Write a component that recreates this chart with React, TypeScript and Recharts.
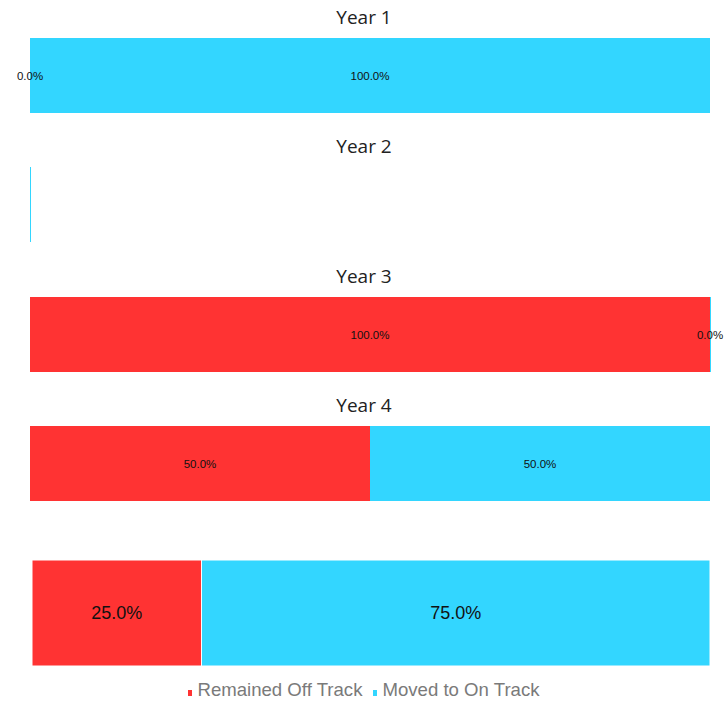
// @ts-nocheck
import React from 'react';
import { BarChart, Bar, XAxis, YAxis, LabelList } from 'recharts';

// Per-year share of students (%)
const years = ['Year 1', 'Year 2', 'Year 3', 'Year 4'];
const offTrack = [0, 0, 100, 50];
const onTrack = [100, 0, 0, 50];

// All years combined (%)
const totalOffTrack = 25;
const totalOnTrack = 75;

const seriesNames = ['Remained Off Track', 'Moved to On Track'];
const RED = '#ff3333';
const BLUE = '#33d6ff';

const W = 728;

// bar that keeps a hairline even when the value is 0
const ThinBar = (props: any) => {
  const { x, y, width, height, fill, stroke } = props;
  return <rect x={x} y={y} width={Math.max(width || 0, 1)} height={height} fill={fill} stroke={stroke} />;
};

const makeLabel = (show: boolean, size: number) => (props: any) => {
  const { x, y, width, height, value } = props;
  if (!show || value == null) return null;
  return (
    <text
      x={x + width / 2}
      y={y + height / 2}
      textAnchor="middle"
      dominantBaseline="central"
      fontSize={size}
      fontFamily="'Liberation Sans', Arial, sans-serif"
      fill="#111"
    >
      {Number(value).toFixed(1)}%
    </text>
  );
};

function YearChart({ i }: { i: number }) {
  const row = { name: years[i], off: offTrack[i], on: onTrack[i] };
  const hasData = row.off + row.on > 0;
  const barTop = 38 + i * 129.3;
  return (
    <>
      <div
        style={{
          position: 'absolute',
          top: barTop - 33,
          left: 0,
          width: W,
          height: 24,
          lineHeight: '24px',
          textAlign: 'center',
          fontFamily: "'Open Sans', sans-serif",
          fontSize: 19,
          color: '#222',
        }}
      >
        {years[i]}
      </div>
      <div style={{ position: 'absolute', top: barTop, left: 0 }}>
        <BarChart
          width={W}
          height={75}
          data={[row]}
          layout="vertical"
          margin={{ top: 0, right: 18, bottom: 0, left: 30 }}
          barCategoryGap={0}
        >
          <XAxis type="number" domain={[0, 100]} hide />
          <YAxis type="category" dataKey="name" hide />
          <Bar dataKey="off" stackId="a" fill={RED} shape={<ThinBar />} isAnimationActive={false}>
            <LabelList dataKey="off" content={makeLabel(hasData, 11.5)} />
          </Bar>
          <Bar dataKey="on" stackId="a" fill={BLUE} shape={<ThinBar />} isAnimationActive={false}>
            <LabelList dataKey="on" content={makeLabel(hasData, 11.5)} />
          </Bar>
        </BarChart>
      </div>
    </>
  );
}

const LegendBox = () => (
  <div
    style={{
      position: 'absolute',
      top: 679,
      left: 0,
      width: W,
      display: 'flex',
      justifyContent: 'center',
      alignItems: 'baseline',
      fontFamily: "'Liberation Sans', Arial, sans-serif",
      fontSize: 18.6,
      lineHeight: '22px',
      color: '#7a7a7a',
    }}
  >
    {seriesNames.map((n, k) => (
      <span key={n} style={{ marginLeft: k ? 11 : 0, display: 'inline-flex', alignItems: 'baseline' }}>
        <span
          style={{
            display: 'inline-block',
            width: 4,
            height: 6,
            background: k ? BLUE : RED,
            marginRight: 5,
          }}
        />
        {n}
      </span>
    ))}
  </div>
);

function TotalChart() {
  const row = { name: 'Total', off: totalOffTrack, on: totalOnTrack };
  return (
    <div style={{ position: 'absolute', top: 560, left: 0 }}>
      <BarChart
        width={W}
        height={106}
        data={[row]}
        layout="vertical"
        margin={{ top: 0, right: 18, bottom: 0, left: 32 }}
        barCategoryGap={0}
      >
        <XAxis type="number" domain={[0, 100]} hide />
        <YAxis type="category" dataKey="name" hide />
        <Bar dataKey="off" stackId="a" fill={RED} stroke="#fff" isAnimationActive={false}>
          <LabelList dataKey="off" content={makeLabel(true, 18)} />
        </Bar>
        <Bar dataKey="on" stackId="a" fill={BLUE} stroke="#fff" isAnimationActive={false}>
          <LabelList dataKey="on" content={makeLabel(true, 18)} />
        </Bar>
      </BarChart>
    </div>
  );
}

export default function App() {
  return (
    <div style={{ position: 'absolute', top: 0, left: 0, width: W, height: 701, background: '#fff' }}>
      {years.map((_, i) => (
        <YearChart key={i} i={i} />
      ))}
      <TotalChart />
      <LegendBox />
    </div>
  );
}
